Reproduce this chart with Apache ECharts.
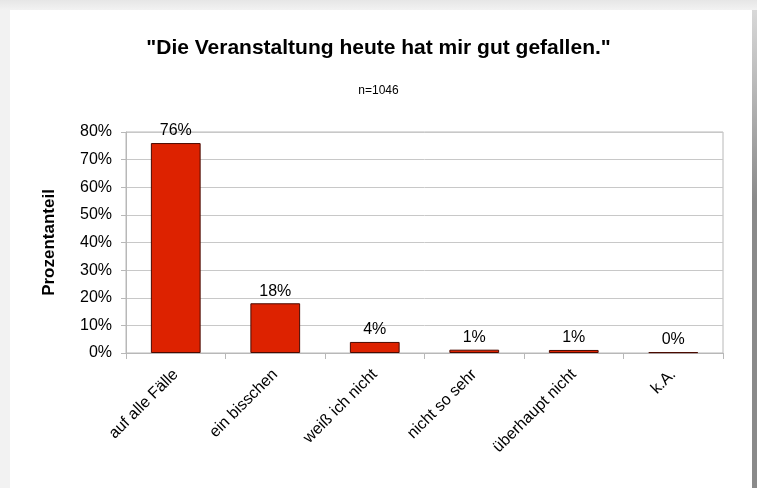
<!DOCTYPE html>
<html>
<head>
<meta charset="utf-8">
<script src="https://cdn.jsdelivr.net/npm/echarts@6/dist/echarts.min.js"></script>
<style>
	html, body {
		margin: 0;
		padding: 0;
		width: 757px;
		height: 488px;
		overflow: hidden;
		background: linear-gradient(to bottom, #e6e6e6 0px, #f2f2f2 10px, #f2f2f2 100%);
	}
	.panel {
		position: absolute;
		left: 10px;
		top: 10px;
		width: 742px;
		height: 500px;
		background: #fff;
	}
	.shadow {
		position: absolute;
		left: 752px;
		top: 10px;
		width: 5px;
		height: 478px;
		background: linear-gradient(to bottom, #d8d8d8, #8a8a8a 40%, #8a8a8a);
	}
	#chart {
		position: absolute;
		left: 0;
		top: 0;
		width: 757px;
		height: 488px;
	}
</style>
</head>
<body>
<div class="panel"></div>
<div class="shadow"></div>
<div id="chart"></div>
<script>
// Werte
const categories = ["auf alle Fälle", "ein bisschen", "weiß ich nicht", "nicht so sehr", "überhaupt nicht", "k.A."];
const percentValues = [76, 18, 4, 1.2, 1.1, 0.3];
const yTicks = [0, 10, 20, 30, 40, 50, 60, 70, 80];

const font = "Liberation Sans, Arial, sans-serif";

let myChart = echarts.init(document.getElementById("chart"));
myChart.setOption({
	backgroundColor: "transparent",
	animation: false,
	title: [
		{
			text: '"Die Veranstaltung heute hat mir gut gefallen."',
			left: "center",
			top: 33,
			textStyle: {
				fontFamily: font,
				fontSize: 21,
				fontWeight: "bold",
				color: "#000"
			}
		},
		{
			text: "n=1046",
			left: "center",
			top: 80,
			textStyle: {
				fontFamily: font,
				fontSize: 12,
				fontWeight: "normal",
				color: "#000"
			}
		}
	],
	grid: {
		left: 126,
		right: 34,
		top: 132,
		bottom: 135,
		show: true,
		borderColor: "#b8b8b8",
		borderWidth: 1
	},
	xAxis: {
		type: "category",
		data: categories,
		axisLine: { lineStyle: { color: "#b8b8b8" } },
		axisTick: {
			show: true,
			length: 6,
			lineStyle: { color: "#b8b8b8" }
		},
		axisLabel: {
			rotate: 45,
			margin: 19,
			fontFamily: font,
			fontSize: 16,
			color: "#000",
			interval: 0
		}
	},
	yAxis: {
		type: "value",
		min: yTicks[0],
		max: yTicks[yTicks.length - 1],
		interval: 10,
		name: "Prozentanteil",
		nameLocation: "middle",
		nameGap: 68,
		nameTextStyle: {
			fontFamily: font,
			fontSize: 17,
			fontWeight: "bold",
			color: "#000"
		},
		axisLine: { show: true, lineStyle: { color: "#b8b8b8" } },
		axisTick: {
			show: true,
			length: 5,
			lineStyle: { color: "#b8b8b8" }
		},
		axisLabel: {
			margin: 14,
			fontFamily: font,
			fontSize: 16,
			color: "#000",
			formatter: "{value}%"
		},
		splitLine: { lineStyle: { color: "#c8c8c8" } }
	},
	series: [
		{
			type: "bar",
			data: percentValues,
			barWidth: "50%",
			itemStyle: {
				color: "#dd2200",
				borderColor: "#4a0a00",
				borderWidth: 1
			},
			label: {
				show: true,
				position: "top",
				distance: 4,
				fontFamily: font,
				fontSize: 16,
				color: "#000",
				formatter: function (p) {
					return Math.round(p.value) + "%";
				}
			}
		}
	]
});
</script>
</body>
</html>
